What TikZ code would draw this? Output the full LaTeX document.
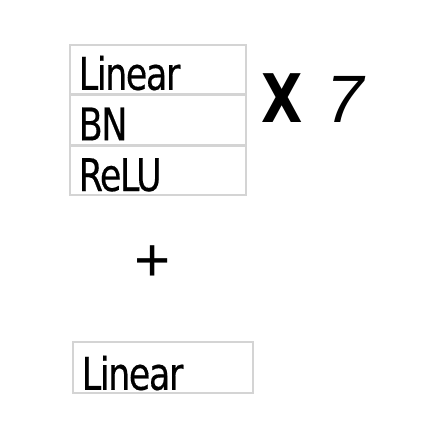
\documentclass[tikz,border=0pt]{standalone}
\usepackage{fontspec}
\setmainfont{Liberation Sans}
\newfontfamily\tfont[FakeStretch=0.86,LetterSpace=-3,FakeBold=0.4]{DejaVu Sans Condensed}
\newfontfamily\xfont[FakeStretch=0.8]{DejaVu Sans Bold}
\newfontfamily\sevenfont{Liberation Sans Italic}
\begin{document}
\begin{tikzpicture}[x=1pt,y=1pt,
  layer/.style={draw=black!17, line width=1.6pt, inner xsep=9pt, inner ysep=0pt,
    anchor=north west, align=left, text height=45pt, text depth=4pt,
    font=\tfont\fontsize{45}{45}\selectfont},
  big/.style={font=\fontsize{67}{67}\selectfont, inner sep=0pt}]
\useasboundingbox[fill=white] (0,0) rectangle (440,-447);
\node[layer, text width=158pt] (lin1) at (69,-44) {Linear};
\node[layer, text width=158pt] (bn) at (lin1.south west) {BN};
\node[layer, text width=158pt] (relu) at (bn.south west) {ReLU};
\node[big, anchor=base west] (rep) at (261,-122) {\xfont X\hspace{24pt}\sevenfont 7};
\node[big, anchor=base, font=\fontsize{62}{62}\selectfont] (plus) at (153,-281) {+};
\node[layer, text width=162pt, text height=48pt, text depth=3pt] (lin2) at (72,-341) {Linear};
\end{tikzpicture}
\end{document}
